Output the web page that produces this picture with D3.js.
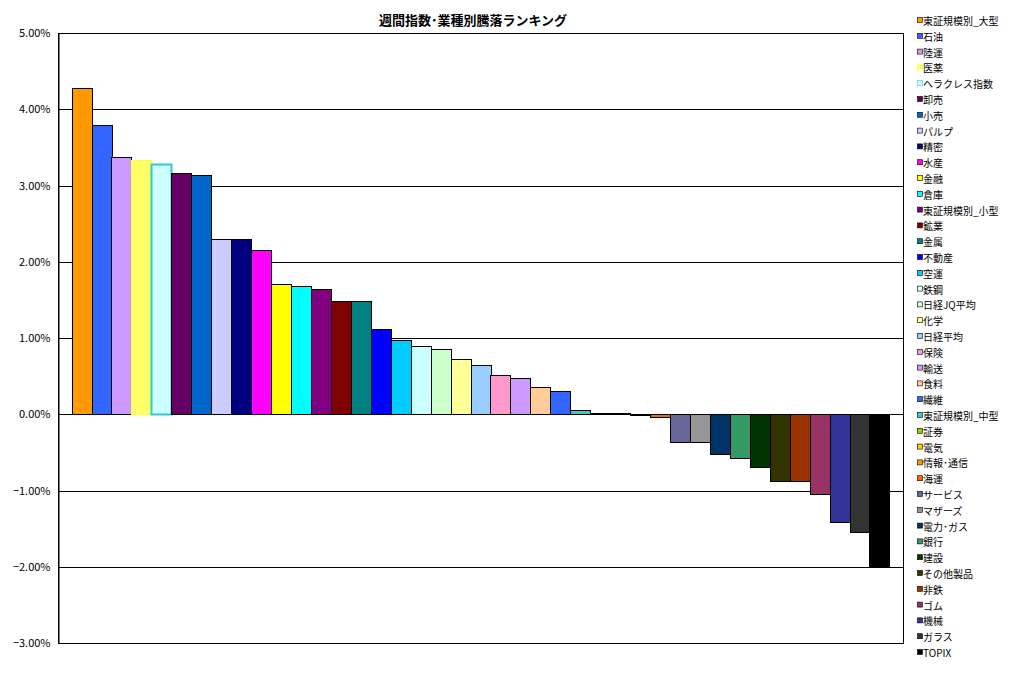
<!DOCTYPE html>
<html><head><meta charset="utf-8">
<script src="https://cdn.jsdelivr.net/npm/d3@7"></script>
<style>body{margin:0;background:#fff}svg{display:block}</style>
</head><body><svg id="c" width="1016" height="679"></svg>
<script>
const categories = ["東証規模別_大型","石油","陸運","医薬","ヘラクレス指数","卸売","小売","パルプ","精密","水産","金融","倉庫","東証規模別_小型","鉱業","金属","不動産","空運","鉄鋼","日経JQ平均","化学","日経平均","保険","輸送","食料","繊維","東証規模別_中型","証券","電気","情報･通信","海運","サービス","マザーズ","電力･ガス","銀行","建設","その他製品","非鉄","ゴム","機械","ガラス","TOPIX"];
const values = [4.28,3.79,3.37,3.34,3.28,3.17,3.14,2.30,2.30,2.16,1.71,1.68,1.64,1.49,1.49,1.12,0.97,0.90,0.86,0.73,0.64,0.51,0.47,0.36,0.30,0.05,0.02,0.01,-0.01,-0.04,-0.36,-0.37,-0.52,-0.58,-0.69,-0.87,-0.87,-1.04,-1.41,-1.55,-2.00];
const colors = ["#FF9900","#3366FF","#CC99FF","#FFFF66","#CCFFFF","#660066","#0066CC","#CCCCFF","#000080","#FF00FF","#FFFF00","#00FFFF","#800080","#800000","#008080","#0000FF","#00CCFF","#CCFFFF","#CCFFCC","#FFFF99","#99CCFF","#FF99CC","#CC99FF","#FFCC99","#3366FF","#33CCCC","#99CC00","#FFCC00","#FF9900","#FF6600","#666699","#969696","#003366","#339966","#003300","#333300","#993300","#993366","#333399","#333333","#000000"];
const strokes = {"医薬":"#FFFF33","ヘラクレス指数":"#33CCCC"};
const yTicks = [-3,-2,-1,0,1,2,3,4,5];
const title = "週間指数･業種別騰落ランキング";

const svg = d3.select("#c");
const font = "'Noto Sans CJK JP', 'Noto Sans', sans-serif";
const L=58, R=903, T=33, B=643;
const x = d3.scaleBand().domain(categories).range([L,R]).paddingInner(0).paddingOuter(0.68);
const y = d3.scaleLinear().domain([-3,5]).range([B,T]);

// plot frame
svg.append("rect").attr("x",L+0.5).attr("y",T+0.5).attr("width",R-L).attr("height",B-T)
  .attr("fill","#fff").attr("stroke","#000").attr("stroke-width",1);

// gridlines
svg.append("g").selectAll("line").data(yTicks).join("line")
  .attr("x1",L).attr("x2",R+0.5)
  .attr("y1",d=>Math.round(y(d))+0.5).attr("y2",d=>Math.round(y(d))+0.5)
  .attr("stroke","#000").attr("stroke-width",1);

// bars
const data = categories.map((c,i)=>({c,v:values[i],col:colors[i]}));
svg.append("g").selectAll("rect").data(data).join("rect")
  .attr("x",d=>Math.round(x(d.c))+0.5)
  .attr("y",d=>Math.round(y(Math.max(0,d.v)))+0.5)
  .attr("width",Math.round(x.bandwidth()))
  .attr("height",d=>Math.max(0.5,Math.abs(Math.round(y(d.v))-Math.round(y(0)))))
  .attr("fill",d=>d.col)
  .attr("stroke",d=>strokes[d.c]||"#000")
  .attr("stroke-width",d=>d.c==="ヘラクレス指数"?2:1);

// y axis
const ax = svg.append("g").attr("transform",`translate(${L+0.5},0)`)
  .call(d3.axisLeft(y).tickValues(yTicks).tickSize(0).tickPadding(8).tickFormat(d=>d3.format(".2f")(d)+"%"));
ax.select(".domain").attr("stroke","#000");
ax.selectAll("text").attr("font-family",font).attr("font-size",11).attr("fill","#000");

// title
svg.append("text").attr("x",473).attr("y",25).attr("text-anchor","middle")
  .attr("font-family",font).attr("font-size",13).attr("font-weight","bold").text(title);

// legend
const lg = svg.append("g");
const ly = d3.scalePoint().domain(categories).range([21,653]);
data.forEach(d=>{
  const yy = ly(d.c);
  lg.append("rect").attr("x",917.5).attr("y",yy-3.5).attr("width",5).attr("height",5)
    .attr("fill",d.col).attr("stroke",strokes[d.c]||"#000").attr("stroke-width",0.6);
  lg.append("text").attr("x",923).attr("y",yy+4).attr("font-family",font).attr("font-size",10)
    .attr("fill","#000").text(d.c);
});
</script></body></html>
